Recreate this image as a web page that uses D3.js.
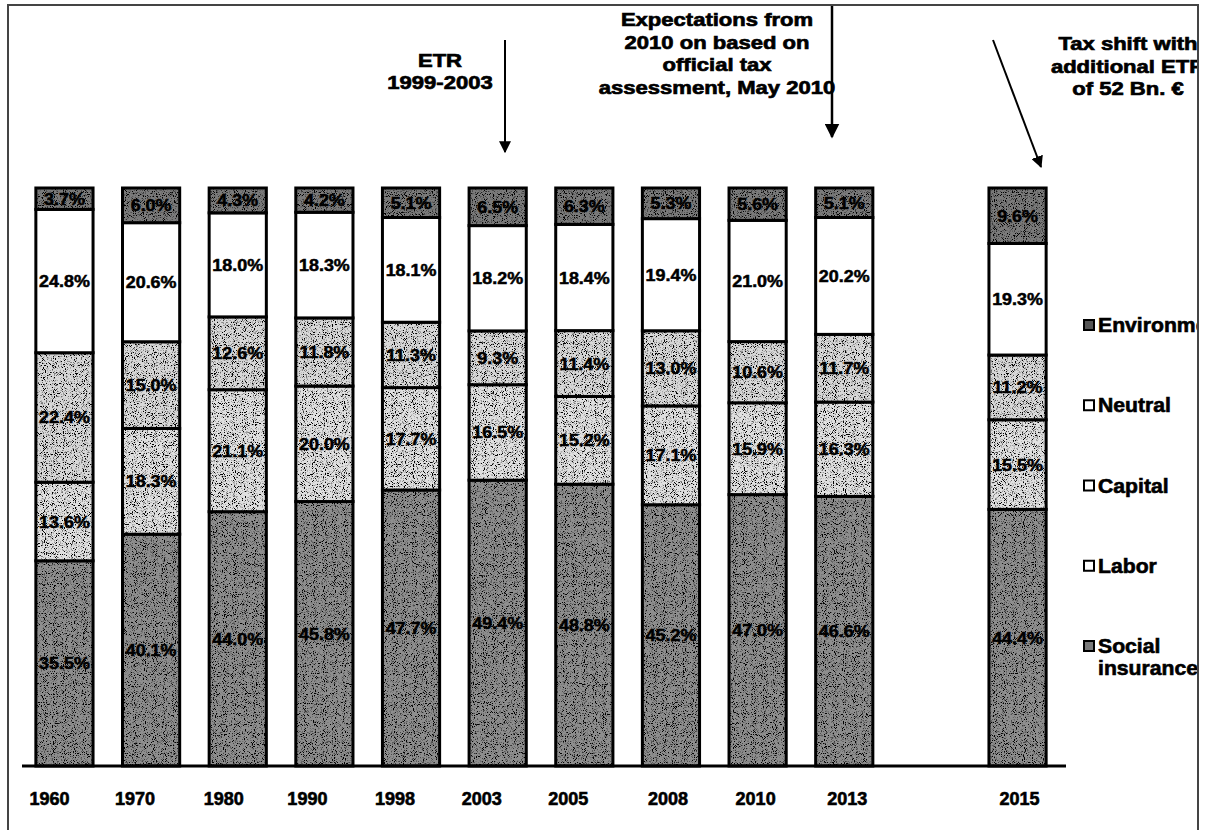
<!DOCTYPE html>
<html>
<head>
<meta charset="utf-8">
<script src="https://cdn.jsdelivr.net/npm/d3@7"></script>
<style>
  html, body { margin: 0; padding: 0; background: #fff; }
  svg { display: block; }
  text { font-family: "Liberation Sans", Arial, Helvetica, sans-serif; font-weight: bold; fill: #000; }
</style>
</head>
<body>
<svg id="chart" width="1207" height="830"></svg>
<script>
// ---- data ----
const years = ["1960","1970","1980","1990","1998","2003","2005","2008","2010","2013","2015"];
const seriesNames = ["Social insurance","Labor","Capital","Neutral","Environment"];
const socialInsurance = [35.5,40.1,44.0,45.8,47.7,49.4,48.8,45.2,47.0,46.6,44.4];
const labor           = [13.6,18.3,21.1,20.0,17.7,16.5,15.2,17.1,15.9,16.3,15.5];
const capital         = [22.4,15.0,12.6,11.8,11.3, 9.3,11.4,13.0,10.6,11.7,11.2];
const neutral         = [24.8,20.6,18.0,18.3,18.1,18.2,18.4,19.4,21.0,20.2,19.3];
const environment     = [ 3.7, 6.0, 4.3, 4.2, 5.1, 6.5, 6.3, 5.3, 5.6, 5.1, 9.6];
const legendOrder = ["Environment","Neutral","Capital","Labor","Social insurance"];
const annotations = [
  ["ETR","1999-2003"],
  ["Expectations from","2010 on based on","official tax","assessment, May 2010"],
  ["Tax shift with","additional ETR","of 52 Bn. €"]
];

// ---- style / layout ----
const colors = {
  "Social insurance": "#8e8e8e",
  "Labor": "#e0e0e0",
  "Capital": "#d8d8d8",
  "Neutral": "#ffffff",
  "Environment": "#7a7a7a"
};
const legendSwatch = {
  "Social insurance": "#7a7a7a", "Labor": "#fff", "Capital": "#fff", "Neutral": "#fff", "Environment": "#555"
};
// horizontal nudges of the year labels as placed in the original slide
const tickShift = {"1960":-15,"1970":-16,"1980":-14,"1990":-17,"1998":-16,"2003":-16,"2005":-16,"2008":-3,"2010":-2,"2013":3,"2015":2};

const table = years.map((y, i) => ({
  year: y,
  "Social insurance": socialInsurance[i],
  "Labor": labor[i],
  "Capital": capital[i],
  "Neutral": neutral[i],
  "Environment": environment[i]
}));

const svg = d3.select("#chart");
const defs = svg.append("defs");

defs.append("clipPath").attr("id","frameClip")
  .append("rect").attr("x",8).attr("y",5).attr("width",1190).attr("height",825);

// speckle texture like the scanned print
const f = defs.append("filter").attr("id","grain").attr("x",0).attr("y",0).attr("width",1).attr("height",1);
f.append("feTurbulence").attr("type","fractalNoise").attr("baseFrequency",1.1).attr("numOctaves",1).attr("seed",4).attr("result","noise");
f.append("feColorMatrix").attr("in","noise").attr("type","matrix")
  .attr("values","0 0 0 0 0  0 0 0 0 0  0 0 0 0 0  -7 0 0 0 3.4").attr("result","speck");
f.append("feComposite").attr("in","speck").attr("in2","SourceGraphic").attr("operator","in").attr("result","speckIn");
const fm = f.append("feMerge");
fm.append("feMergeNode").attr("in","SourceGraphic");
fm.append("feMergeNode").attr("in","speckIn");

const root = svg.append("g").attr("clip-path","url(#frameClip)");

const domain = years.slice(0, 10).concat(["gap"], years.slice(10));
const x = d3.scaleBand().domain(domain).range([22, 1060]).paddingInner(0.34).paddingOuter(0.16);
const y = d3.scaleLinear().domain([0, 1]).range([766, 188]);

const stacked = d3.stack().keys(seriesNames).offset(d3.stackOffsetExpand)(table);

const layers = root.append("g").selectAll("g").data(stacked).join("g");

// textured fills
layers.selectAll("rect.fill").data(d => d.map(p => Object.assign(p, {key: d.key}))).join("rect")
  .attr("class","fill")
  .attr("x", d => x(d.data.year))
  .attr("width", x.bandwidth())
  .attr("y", d => y(d[1]))
  .attr("height", d => y(d[0]) - y(d[1]))
  .attr("fill", d => colors[d.key])
  .attr("filter", d => d.key === "Neutral" ? null : "url(#grain)");

// outlines
layers.selectAll("rect.edge").data(d => d).join("rect")
  .attr("class","edge")
  .attr("x", d => x(d.data.year))
  .attr("width", x.bandwidth())
  .attr("y", d => y(d[1]))
  .attr("height", d => y(d[0]) - y(d[1]))
  .attr("fill", "none")
  .attr("stroke", "#000")
  .attr("stroke-width", 3);

// value labels
layers.selectAll("text").data(d => d).join("text")
  .attr("transform", d => `translate(${x(d.data.year) + x.bandwidth()/2},${(y(d[0]) + y(d[1]))/2 + 6}) scale(1.12,1)`)
  .attr("text-anchor", "middle")
  .attr("font-size", 16)
  .attr("stroke", "#000").attr("stroke-width", 0.5)
  .text(d => d.data[d.key].toFixed(1) + "%");

// axis
const axis = d3.axisBottom(x).tickSize(0).tickPadding(26).tickFormat(d => d === "gap" ? "" : d);
const ax = root.append("g").attr("transform", "translate(0,766)").call(axis);
ax.select(".domain").remove();
ax.selectAll(".tick text")
  .attr("font-size", 18).attr("font-family", null)
  .style("font-weight","bold").attr("fill","#000")
  .attr("stroke","#000").attr("stroke-width",0.6)
  .attr("dx", d => tickShift[d] || 0);
root.append("line").attr("x1", 22).attr("x2", 1066).attr("y1", 766).attr("y2", 766)
  .attr("stroke", "#000").attr("stroke-width", 3);

// legend
const legendY = d3.scalePoint().domain(legendOrder).range([327, 648]);
const legend = root.append("g");
legendOrder.forEach(name => {
  const g = legend.append("g").attr("transform", `translate(1083,${legendY(name)})`);
  g.append("rect").attr("x", 1).attr("y", -7).attr("width", 10).attr("height", 10)
    .attr("fill", legendSwatch[name]).attr("stroke", "#000").attr("stroke-width", 2);
  const lines = name === "Social insurance" ? ["Social","insurance"] : [name];
  lines.forEach((ln, i) => {
    g.append("text").attr("transform", `translate(15,${5 + i * 22}) scale(1.06,1)`)
      .attr("font-size", 20).attr("stroke","#000").attr("stroke-width",0.6).text(ln);
  });
});

// annotations
const annPos = [
  {cx: 440, y0: 67, dy: 22},
  {cx: 717, y0: 26, dy: 22.5},
  {cx: 1128, y0: 50, dy: 22.5}
];
annotations.forEach((lines, k) => {
  const p = annPos[k];
  lines.forEach((ln, i) => {
    root.append("text")
      .attr("transform", `translate(${p.cx},${p.y0 + i * p.dy}) scale(1.16,1)`)
      .attr("text-anchor", "middle").attr("font-size", 19)
      .attr("stroke","#000").attr("stroke-width",0.7).text(ln);
  });
});

// arrows
defs.append("marker").attr("id","arrow").attr("viewBox","0 0 10 10").attr("refX",9).attr("refY",5)
  .attr("markerWidth",6).attr("markerHeight",6).attr("orient","auto")
  .append("path").attr("d","M0,0 L10,5 L0,10 z").attr("fill","#000");
const arrows = [
  {x1: 505, y1: 40, x2: 505, y2: 152, w: 2},
  {x1: 832, y1: 4, x2: 832, y2: 137, w: 2.5},
  {x1: 993, y1: 40, x2: 1041, y2: 167, w: 2}
];
arrows.forEach(a => {
  root.append("line").attr("x1",a.x1).attr("y1",a.y1).attr("x2",a.x2).attr("y2",a.y2)
    .attr("stroke","#000").attr("stroke-width",a.w).attr("marker-end","url(#arrow)");
});

// frame
svg.append("path").attr("d","M8,830 L8,5 L1198,5 L1198,830")
  .attr("fill","none").attr("stroke","#444").attr("stroke-width",2);
</script>
</body>
</html>
